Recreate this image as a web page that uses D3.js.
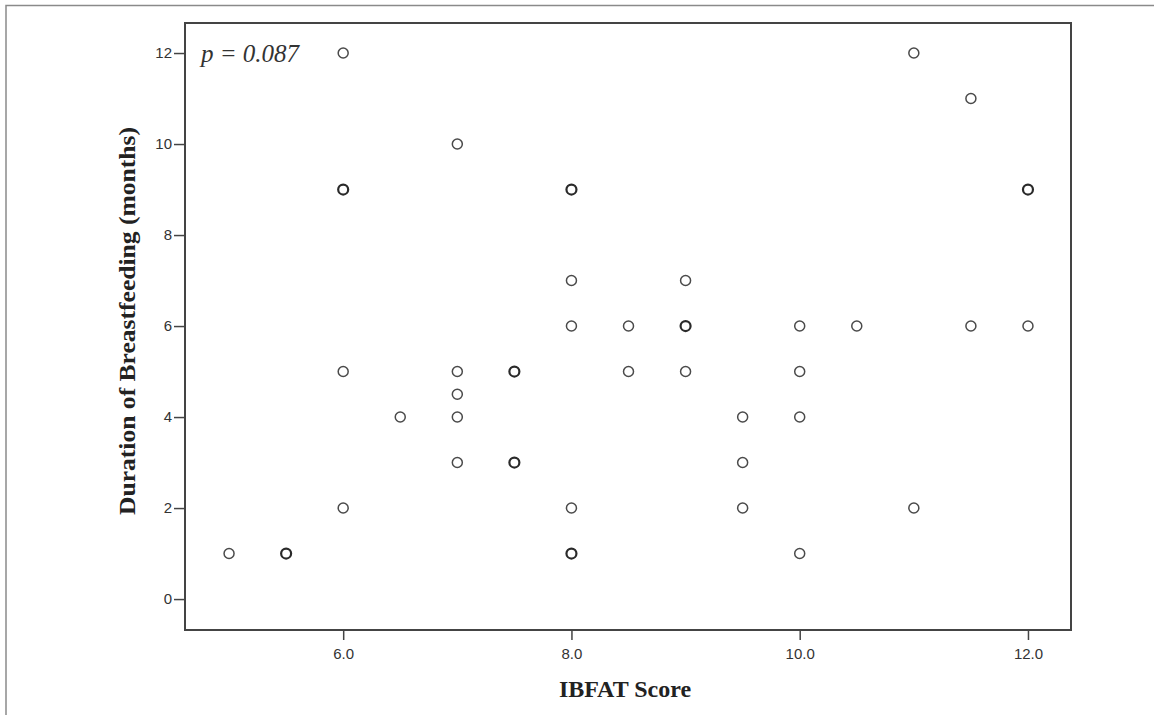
<!DOCTYPE html>
<html>
<head>
<meta charset="utf-8">
<script src="https://cdn.jsdelivr.net/npm/d3@7"></script>
<style>
  body { margin: 0; background: #fff; }
  svg { display: block; }
</style>
</head>
<body>
<svg id="chart" width="1154" height="715"></svg>
<script>
// IBFAT score vs duration of breastfeeding (months); repeated pairs are overlapping cases
const ibfat = [
    5, 5.5, 5.5,
    6, 6, 6, 6, 6,
    6.5,
    7, 7, 7, 7, 7,
    7.5, 7.5, 7.5, 7.5,
    8, 8, 8, 8, 8, 8, 8,
    8.5, 8.5,
    9, 9, 9, 9,
    9.5, 9.5, 9.5,
    10, 10, 10, 10,
    10.5,
    11, 11,
    11.5, 11.5,
    12, 12, 12
];
const months = [
    1, 1, 1,
    12, 9, 9, 5, 2,
    4,
    10, 5, 4.5, 4, 3,
    5, 5, 3, 3,
    9, 9, 7, 6, 2, 1, 1,
    6, 5,
    7, 6, 6, 5,
    4, 3, 2,
    6, 5, 4, 1,
    6,
    12, 2,
    11, 6,
    9, 9, 6
];
const xTicks = [6, 8, 10, 12];
const yTicks = [0, 2, 4, 6, 8, 10, 12];

const svg = d3.select("#chart");

const fig = { left: 185, top: 23, right: 1071, bottom: 630 };

const x = d3.scaleLinear().domain([4.614, 12.377]).range([fig.left, fig.right]);
const y = d3.scaleLinear().domain([-0.68, 12.66]).range([fig.bottom, fig.top]);

// outer frame of the figure panel
svg.append("path")
    .attr("d", "M6,715 L6,5.5 L1154,5.5")
    .attr("fill", "none")
    .attr("stroke", "#8a8a8a")
    .attr("stroke-width", 1.5);

// plot box
svg.append("rect")
    .attr("x", fig.left)
    .attr("y", fig.top)
    .attr("width", fig.right - fig.left)
    .attr("height", fig.bottom - fig.top)
    .attr("fill", "none")
    .attr("stroke", "#444")
    .attr("stroke-width", 2);

const xAxis = d3.axisBottom(x)
    .tickValues(xTicks)
    .tickFormat(d3.format(".1f"))
    .tickSize(10)
    .tickSizeOuter(0);
const gx = svg.append("g")
    .attr("transform", `translate(0,${fig.bottom})`)
    .call(xAxis);
gx.select(".domain").remove();
gx.selectAll(".tick line").attr("stroke", "#444").attr("stroke-width", 1.5);
gx.selectAll(".tick text")
    .attr("y", 18)
    .attr("font-family", "Liberation Sans, Arial, sans-serif")
    .attr("font-size", 15)
    .attr("fill", "#333");

const yAxis = d3.axisLeft(y)
    .tickValues(yTicks)
    .tickFormat(d3.format("d"))
    .tickSize(11)
    .tickSizeOuter(0);
const gy = svg.append("g")
    .attr("transform", `translate(${fig.left},0)`)
    .call(yAxis);
gy.select(".domain").remove();
gy.selectAll(".tick line").attr("stroke", "#444").attr("stroke-width", 1.5);
gy.selectAll(".tick text")
    .attr("x", -13)
    .attr("font-family", "Liberation Sans, Arial, sans-serif")
    .attr("font-size", 15)
    .attr("fill", "#333");

// overlapping cases are drawn heavier, as in the original
const counts = d3.rollup(ibfat.map((d, i) => [d, months[i]]), v => v.length, d => d[0] + "|" + d[1]);
const pts = Array.from(counts, ([k, n]) => {
    const [a, b] = k.split("|").map(Number);
    return { x: a, y: b, n };
});

svg.append("g")
    .selectAll("circle")
    .data(pts)
    .enter()
    .append("circle")
    .attr("cx", d => x(d.x))
    .attr("cy", d => y(d.y))
    .attr("r", 5)
    .attr("fill", "none")
    .attr("stroke", d => d.n > 1 ? "#2a2a2a" : "#4a4a4a")
    .attr("stroke-width", d => d.n > 1 ? 2.2 : 1.5);

// p value annotation
svg.append("text")
    .attr("x", 201)
    .attr("y", 62)
    .attr("font-family", "Liberation Serif, Times New Roman, serif")
    .attr("font-style", "italic")
    .attr("font-size", 25)
    .attr("fill", "#333")
    .text("p = 0.087");

// axis titles
svg.append("text")
    .attr("x", 625)
    .attr("y", 697)
    .attr("text-anchor", "middle")
    .attr("font-family", "Liberation Serif, Times New Roman, serif")
    .attr("font-weight", "bold")
    .attr("font-size", 24)
    .attr("fill", "#222")
    .text("IBFAT Score");

svg.append("text")
    .attr("transform", "translate(135,321) rotate(-90)")
    .attr("text-anchor", "middle")
    .attr("font-family", "Liberation Serif, Times New Roman, serif")
    .attr("font-weight", "bold")
    .attr("font-size", 23)
    .attr("textLength", 388)
    .attr("lengthAdjust", "spacingAndGlyphs")
    .attr("fill", "#222")
    .text("Duration of Breastfeeding (months)");
</script>
</body>
</html>
